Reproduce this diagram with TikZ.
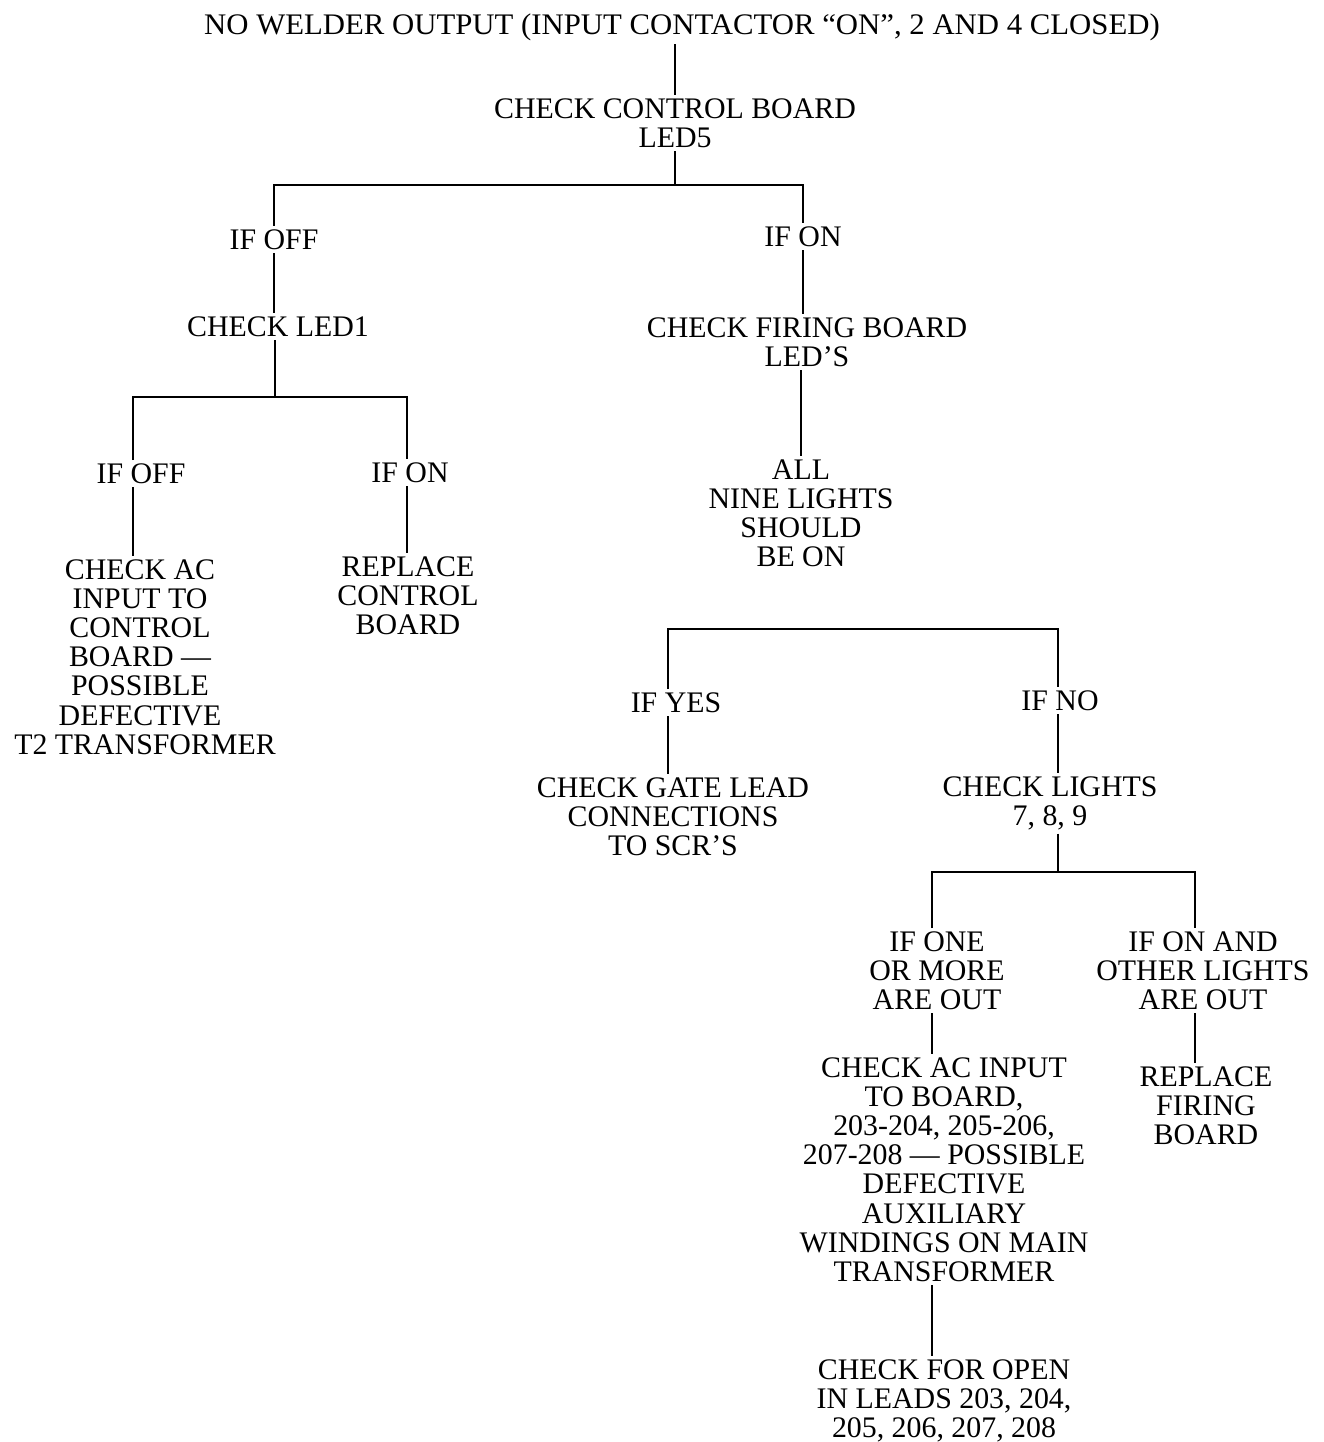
\documentclass[tikz,border=0pt]{standalone}
\usepackage{fontspec}
\setmainfont{Liberation Serif}
\begin{document}
\begin{tikzpicture}[x=0.02cm,y=-0.02cm,line width=1.6pt,
  txt/.style={align=center,inner sep=0pt,outer sep=2pt,anchor=north,
    font=\fontsize{17}{16.6}\selectfont}]
  \useasboundingbox (0,0) rectangle (1323,1442);
  % text of the chart
  \node[txt] (title) at (682,10) {\scalebox{1.03}[1]{NO WELDER OUTPUT (INPUT CONTACTOR “ON”, 2 AND 4 CLOSED)}};
  \node[txt] (ccb) at (675,95) {CHECK CONTROL BOARD\\LED5};
  \node[txt] (ifoff1) at (274,226) {IF OFF};
  \node[txt] (ifon1) at (803,223) {IF ON};
  \node[txt] (led1) at (278,313) {CHECK LED1};
  \node[txt] (cfb) at (807,314) {CHECK FIRING BOARD\\LED’S};
  \node[txt] (ifoff2) at (141,460) {IF OFF};
  \node[txt] (ifon2) at (410,459) {IF ON};
  \node[txt] (chkac) at (140,556) {CHECK AC\\INPUT TO\\CONTROL\\BOARD ---\\POSSIBLE\\DEFECTIVE\\\hspace*{0.2cm}T2 TRANSFORMER};
  \node[txt] (replace) at (408,553) {REPLACE\\CONTROL\\BOARD};
  \node[txt] (allnine) at (801,456) {ALL\\NINE LIGHTS\\SHOULD\\BE ON};
  \node[txt] (ifyes) at (676,689) {IF YES};
  \node[txt] (ifno) at (1060,687) {IF NO};
  \node[txt] (gate) at (673,774) {CHECK GATE LEAD\\CONNECTIONS\\TO SCR’S};
  \node[txt] (lights) at (1050,773) {CHECK LIGHTS\\7, 8, 9};
  \node[txt] (ifone) at (937,928) {IF ONE\\OR MORE\\ARE OUT};
  \node[txt] (ifonand) at (1203,928) {IF ON AND\\OTHER LIGHTS\\ARE OUT};
  \node[txt] (acinput) at (944,1054) {CHECK AC INPUT\\TO BOARD,\\203-204, 205-206,\\207-208 --- POSSIBLE\\DEFECTIVE\\AUXILIARY\\WINDINGS ON MAIN\\TRANSFORMER};
  \node[txt] (replfire) at (1206,1063) {REPLACE\\FIRING\\BOARD};
  \node[txt] (openlead) at (944,1356) {CHECK FOR OPEN\\IN LEADS 203, 204,\\205, 206, 207, 208};
  % branch points
  \coordinate (j1) at (677,185);
  \coordinate (j2) at (275,397);
  \coordinate (b2l) at (133,397);
  \coordinate (b2r) at (407,397);
  \coordinate (b3l) at (668,629);
  \coordinate (b3r) at (1058,629);
  \coordinate (j4) at (1058,872);
  \coordinate (b4l) at (932,872);
  \coordinate (b4r) at (1195,872);
  % lines
  \draw (title.south -| ccb.north) -- (ccb.north);
  \draw (ccb.south) -- (ccb.south |- j1);
  \draw (ifoff1.north) |- (j1) -| (ifon1.north);
  \draw (ifoff1.south) -- (ifoff1.south |- led1.north);
  \draw (ifon1.south) -- (ifon1.south |- cfb.north);
  \draw (cfb.south -| allnine.north) -- (allnine.north);
  \draw (led1.south -| j2) -- (j2);
  \draw (b2l |- ifoff2.north) -- (b2l) -- (b2r) -- (b2r |- ifon2.north);
  \draw (ifoff2.south -| b2l) -- (b2l |- chkac.north);
  \draw (ifon2.south -| b2r) -- (b2r |- replace.north);
  \draw (b3l |- ifyes.north) -- (b3l) -- (b3r) -- (b3r |- ifno.north);
  \draw (ifyes.south -| b3l) -- (b3l |- gate.north);
  \draw (ifno.south -| b3r) -- (b3r |- lights.north);
  \draw (lights.south -| j4) -- (j4);
  \draw (b4l |- ifone.north) -- (b4l) -- (b4r) -- (b4r |- ifonand.north);
  \draw (ifone.south -| b4l) -- (b4l |- acinput.north);
  \draw (ifonand.south -| b4r) -- (b4r |- replfire.north);
  \draw (acinput.south -| b4l) -- (b4l |- openlead.north);
\end{tikzpicture}
\end{document}
